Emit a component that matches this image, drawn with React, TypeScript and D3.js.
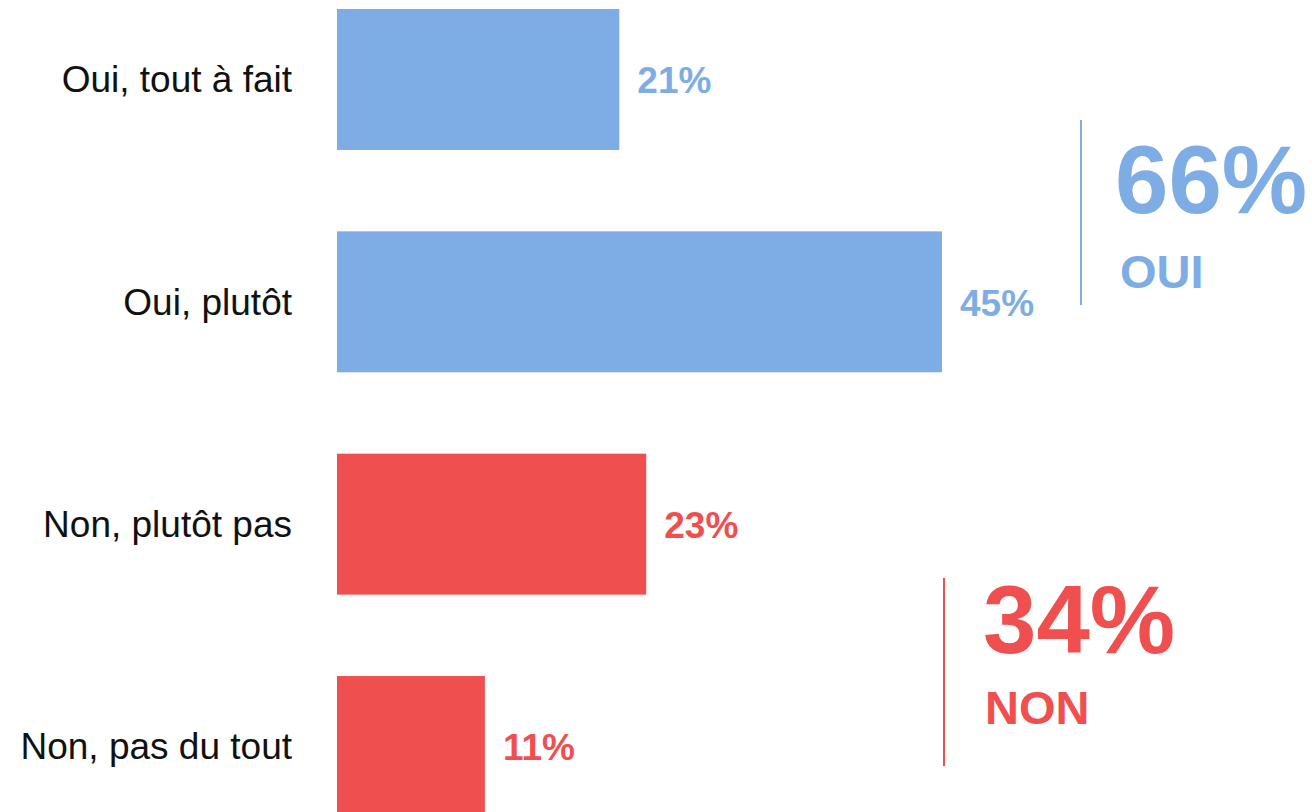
import React from "react";
import { scaleBand, scaleLinear } from "d3";

const width = 1312;
const height = 812;

const categories = ["Oui, tout à fait", "Oui, plutôt", "Non, plutôt pas", "Non, pas du tout"];
const values = [21, 45, 23, 11];
const barColors = ["#7eade5", "#7eade5", "#f04f50", "#f04f50"];

const groupLabels = ["OUI", "NON"];
const groupTotals = [66, 34];
const groupColors = ["#7eade5", "#f04f50"];

const font = "'Liberation Sans', Arial, sans-serif";

const x = scaleLinear().domain([0, 45]).range([337, 942]);
const y = scaleBand<string>()
  .domain(categories)
  .range([9, 817])
  .paddingInner(0.366)
  .paddingOuter(0);

// summary blocks: line x, line top/bottom, text x, big baseline, small baseline
const summary = [
  { lx: 1081, y1: 120, y2: 305, tx: 1115, big: 213, small: 288, sx: 1120 },
  { lx: 944, y1: 578, y2: 766, tx: 983, big: 653, small: 724, sx: 985 },
];

export default function App() {
  return (
    <svg
      width={width}
      height={height}
      style={{ position: "absolute", left: 0, top: 0, background: "#fff" }}
    >
      {categories.map((c, i) => {
        const yc = (y(c) ?? 0) + y.bandwidth() / 2;
        return (
          <g key={c}>
            <rect
              x={x(0)}
              y={y(c)}
              width={x(values[i]) - x(0)}
              height={y.bandwidth()}
              fill={barColors[i]}
            />
            <text
              x={x(0) - 45}
              y={yc}
              dy="0.35em"
              textAnchor="end"
              fontFamily={font}
              fontSize={37}
              fill="#111"
            >
              {c}
            </text>
            <text
              x={x(values[i]) + 18}
              y={yc}
              dy="0.37em"
              fontFamily={font}
              fontSize={37}
              fontWeight="bold"
              fill={barColors[i]}
            >
              {values[i]}%
            </text>
          </g>
        );
      })}
      {summary.map((s, i) => (
        <g key={groupLabels[i]}>
          <line x1={s.lx} x2={s.lx} y1={s.y1} y2={s.y2} stroke={groupColors[i]} strokeWidth={2} />
          <text x={s.tx} y={s.big} fontFamily={font} fontSize={96} fontWeight="bold" fill={groupColors[i]}>
            {groupTotals[i]}%
          </text>
          <text x={s.sx} y={s.small} fontFamily={font} fontSize={47} fontWeight="bold" fill={groupColors[i]}>
            {groupLabels[i]}
          </text>
        </g>
      ))}
    </svg>
  );
}
